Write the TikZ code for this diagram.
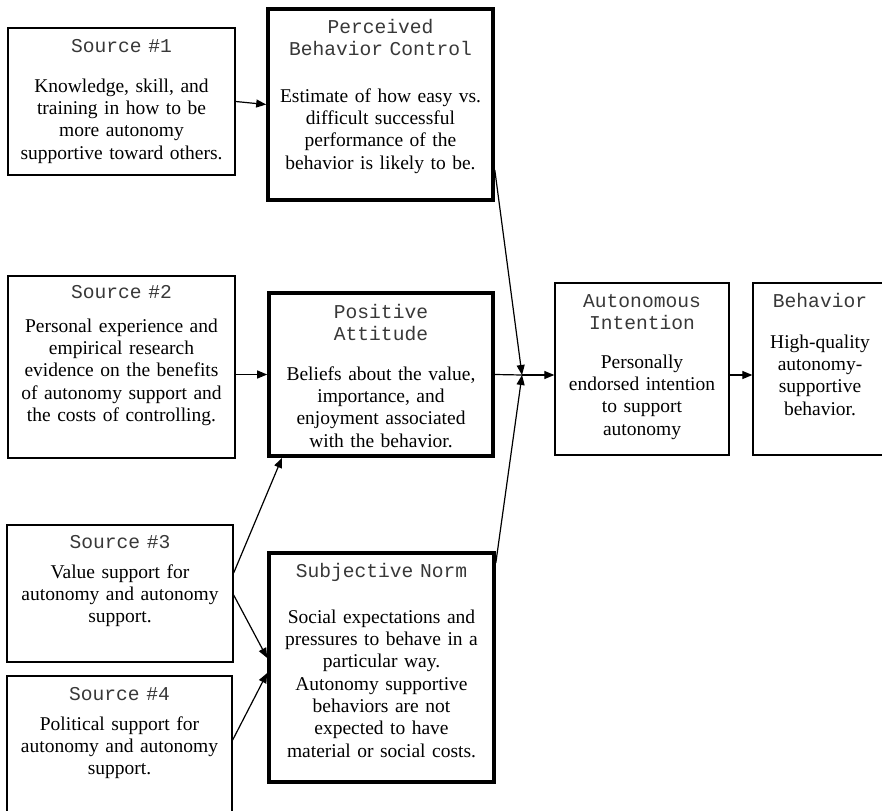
\documentclass[tikz,border=0pt]{standalone}
\usepackage{fontspec}
\setmainfont{Liberation Serif}
\newfontfamily\titlemono{Liberation Mono}
\usetikzlibrary{arrows.meta,calc}
\tikzset{
  thinbox/.style={draw=black, line width=1.3pt, rectangle, inner sep=0pt, fill=none},
  thickbox/.style={draw=black, line width=3.6pt, rectangle, inner sep=0pt, fill=none},
  ttl/.style={anchor=north, inner sep=0pt, text width=230pt, align=center, text=black!78,
    font=\titlemono\fontsize{19.6}{22.3}\selectfont, execute at begin node=\strut},
  bdy/.style={anchor=north, inner sep=0pt, text width=230pt, align=center,
    font=\fontsize{19.5}{22.3}\selectfont, execute at begin node=\strut},
  arr/.style={line width=1.2pt, -{Triangle[length=10pt,width=8pt]}},
  ln/.style={line width=1.2pt}
}
\begin{document}
\begin{tikzpicture}[x=1pt,y=-1pt]
\useasboundingbox (0,0) rectangle (882,810);
% boxes
\node[thinbox, minimum width=227pt, minimum height=147pt] (s1) at (121.5,101.5) {};
\node[thickbox, minimum width=225pt, minimum height=191pt] (pbc) at (380.5,104.5) {};
\node[thinbox, minimum width=227pt, minimum height=182pt] (s2) at (121.5,367) {};
\node[thickbox, minimum width=224pt, minimum height=163pt] (pa) at (381,374.5) {};
\node[thinbox, minimum width=174pt, minimum height=172pt] (ai) at (642,369) {};
\node[thinbox, minimum width=134pt, minimum height=172pt] (beh) at (820,369) {};
\node[thinbox, minimum width=226pt, minimum height=137pt] (s3) at (120,593.5) {};
\node[thinbox, minimum width=225pt, minimum height=154pt] (s4) at (119.5,753) {};
\node[thickbox, minimum width=225pt, minimum height=229pt] (sn) at (381.5,667.5) {};
% texts (baseline - 15.6)
\node[ttl] (s1t) at (121.5,36.4) {Source \#1};
\node[bdy] (s1b) at (121.5,76.4) {Knowledge, skill, and\\training in how to be\\more autonomy\\supportive toward others.};
\node[ttl] (pbct) at (380.5,17.4) {Perceived\\Behavior Control};
\node[bdy] (pbcb) at (380.5,86.4) {Estimate of how easy vs.\\difficult successful\\performance of the\\behavior is likely to be.};
\node[ttl] (s2t) at (121.5,282.4) {Source \#2};
\node[bdy] (s2b) at (121.5,316.4) {Personal experience and\\empirical research\\evidence on the benefits\\of autonomy support and\\the costs of controlling.};
\node[ttl] (pat) at (381,302.4) {Positive\\Attitude};
\node[bdy] (pab) at (381,364.4) {Beliefs about the value,\\importance, and\\enjoyment associated\\with the behavior.};
\node[ttl] (ait) at (642,291.4) {Autonomous\\Intention};
\node[bdy] (aib) at (642,352.4) {Personally\\endorsed intention\\to support\\autonomy};
\node[ttl] (beht) at (820,291.4) {Behavior};
\node[bdy] (behb) at (820,332.4) {High-quality\\autonomy-\\supportive\\behavior.};
\node[ttl] (s3t) at (120,532.4) {Source \#3};
\node[bdy] (s3b) at (120,562.4) {Value support for\\autonomy and autonomy\\support.};
\node[ttl] (s4t) at (119.5,684.4) {Source \#4};
\node[bdy] (s4b) at (119.5,714.4) {Political support for\\autonomy and autonomy\\support.};
\node[ttl] (snt) at (381.5,561.4) {Subjective Norm};
\node[bdy] (snb) at (381.5,607.4) {Social expectations and\\pressures to behave in a\\particular way.\\Autonomy supportive\\behaviors are not\\expected to have\\material or social costs.};
% connectors
\coordinate (J) at (522,375);
\draw[arr] (s1.east) -- (pbc.west);
\draw[arr] (s2.east |- pa.west) -- (pa.west);
\draw[ln] (pa.east) -- (J);
\draw[arr] (J) -- (J -| ai.west);
\draw[arr] (pbc.east |- 0,170) -- (J);
\draw[arr] (sn.east |- 0,563) -- (J);
\draw[arr] (ai.east |- J) -- (beh.west |- J);
\draw[arr] (s3.east |- 0,573) -- (pa.south -| 282,0);
\draw[arr] (s3.east |- 0,595) -- (sn.west |- 0,658);
\draw[arr] (s4.east |- 0,740) -- (sn.west |- 0,673);
\end{tikzpicture}
\end{document}
